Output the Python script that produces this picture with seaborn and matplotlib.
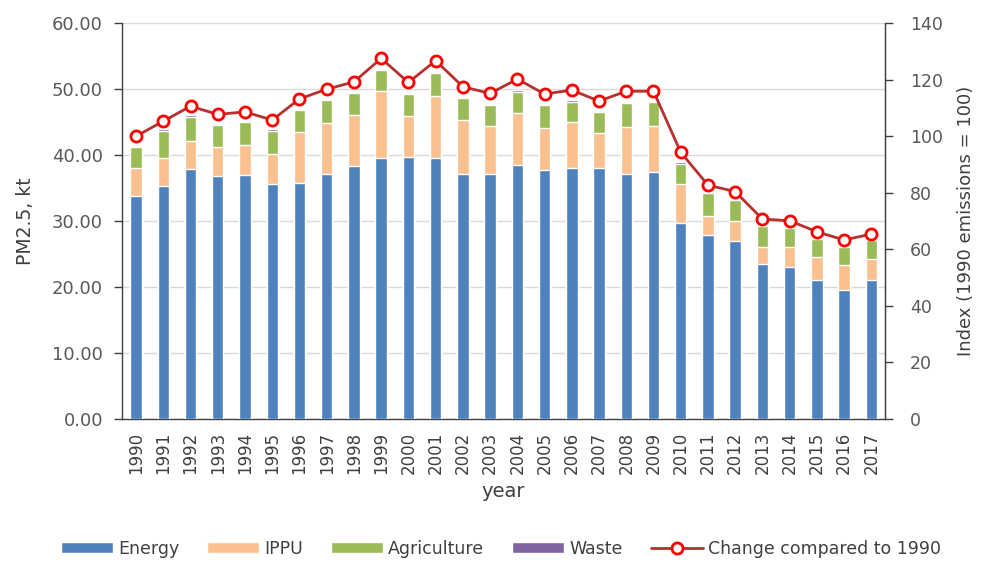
import numpy as np
import pandas as pd
import seaborn as sns
import matplotlib.pyplot as plt

# data (PM2.5 emissions, kt)
years = [str(y) for y in range(1990, 2018)]
energy = [33.8, 35.3, 37.9, 36.8, 36.9, 35.6, 35.8, 37.1, 38.4, 39.5,
          39.7, 39.5, 37.1, 37.2, 38.5, 37.7, 38.1, 38.1, 37.2, 37.4,
          29.7, 27.9, 26.9, 23.5, 23.0, 21.0, 19.5, 21.0]
ippu = [4.3, 4.2, 4.3, 4.4, 4.6, 4.6, 7.7, 7.7, 7.7, 10.2,
        6.2, 9.5, 8.2, 7.2, 7.8, 6.4, 6.9, 5.2, 7.1, 7.0,
        5.9, 2.9, 3.1, 2.6, 3.1, 3.6, 3.8, 3.2]
agriculture = [3.1, 4.2, 3.6, 3.3, 3.5, 3.5, 3.3, 3.5, 3.3, 3.2,
               3.3, 3.4, 3.3, 3.2, 3.3, 3.5, 3.1, 3.2, 3.6, 3.6,
               3.1, 3.4, 3.2, 3.1, 2.8, 2.7, 2.7, 2.9]
waste = [0.2] * 28
index_1990 = [100.0, 105.3, 110.6, 107.7, 108.6, 105.7, 113.2, 116.6, 119.2, 127.5,
              119.0, 126.7, 117.5, 115.1, 120.2, 114.9, 116.3, 112.4, 115.9, 115.9,
              94.3, 82.7, 80.4, 70.7, 70.1, 66.2, 63.3, 65.4]

COLORS = {"Energy": "#4F81BD", "IPPU": "#FAC090",
          "Agriculture": "#9BBB59", "Waste": "#8064A2"}
LINE_COLOR = "#B5302E"
MARKER_EDGE = "#FF0000"
TEXT_COLOR = "#595959"

df = pd.DataFrame({"year": years, "Energy": energy, "IPPU": ippu,
                   "Agriculture": agriculture, "Waste": waste})
# cumulative tops so the stack can be drawn back-to-front
sectors = ["Energy", "IPPU", "Agriculture", "Waste"]
cum = df[sectors].cumsum(axis=1)

sns.set_style("white")
plt.rcParams["font.family"] = ["DejaVu Sans"]

fig = plt.figure(figsize=(9.82, 5.62), dpi=100)
ax = fig.add_axes([0.1247, 0.2544, 0.9012 - 0.1247, 0.959 - 0.2544])

for sector in reversed(sectors):
    sns.barplot(x=df["year"], y=cum[sector], color=COLORS[sector], width=0.42,
                saturation=1, ax=ax, label=sector, zorder=3)

ax.set_xlim(-0.5, len(years) - 0.5)
ax.set_ylim(0, 60)
ax.set_yticks(np.arange(0, 61, 10))
ax.set_yticklabels([f"{v:.2f}" for v in np.arange(0, 61, 10)])
ax.yaxis.grid(True, color="#D9D9D9", linewidth=1, zorder=0)
ax.set_axisbelow(True)
ax.tick_params(axis="y", direction="out", length=6, width=1, pad=8,
               labelsize=13, labelcolor=TEXT_COLOR, color="#404040", left=True)
ax.tick_params(axis="x", length=0, pad=9, labelsize=12, labelcolor="#404040",
               labelrotation=90)
ax.set_xlabel("year", fontsize=14, color="#404040", labelpad=6)
ax.set_ylabel("PM2.5, kt", fontsize=13.5, color="#404040", labelpad=12)
ax.spines["top"].set_visible(False)
for side in ["left", "bottom", "right"]:
    ax.spines[side].set_color("#404040")
    ax.spines[side].set_linewidth(1)

# index line on the secondary axis
ax2 = ax.twinx()
sns.lineplot(x=np.arange(len(years)), y=index_1990, ax=ax2, color=LINE_COLOR,
             linewidth=2, marker="o", markersize=8, markerfacecolor="white",
             markeredgecolor=MARKER_EDGE, markeredgewidth=2,
             label="Change compared to 1990", zorder=5, legend=False)
ax2.set_xlim(-0.5, len(years) - 0.5)
ax2.set_ylim(0, 140)
ax2.set_yticks(np.arange(0, 141, 20))
ax2.tick_params(axis="y", direction="out", length=6, width=1, pad=12,
                labelsize=12.5, labelcolor=TEXT_COLOR, color="#404040", right=True)
ax2.set_ylabel("Index (1990 emissions = 100)", fontsize=13, color="#404040", labelpad=10)
ax2.spines["top"].set_visible(False)
ax2.spines["right"].set_color("#404040")
ax2.spines["left"].set_visible(False)
ax2.spines["bottom"].set_visible(False)

# legend along the bottom edge, in the reference order
h1, l1 = ax.get_legend_handles_labels()
h2, l2 = ax2.get_legend_handles_labels()
if ax.get_legend() is not None:
    ax.get_legend().remove()
order = [l1.index(s) for s in sectors]
handles = [h1[i] for i in order] + h2
labels = [l1[i] for i in order] + l2
fig.legend(handles, labels, loc="center", bbox_to_anchor=(0.51, 0.024), ncol=5,
           frameon=False, fontsize=12.5, handlelength=3.0, handleheight=0.6,
           columnspacing=1.6, handletextpad=0.3,
           labelcolor="#404040")

fig.savefig("out.png", dpi=100)
